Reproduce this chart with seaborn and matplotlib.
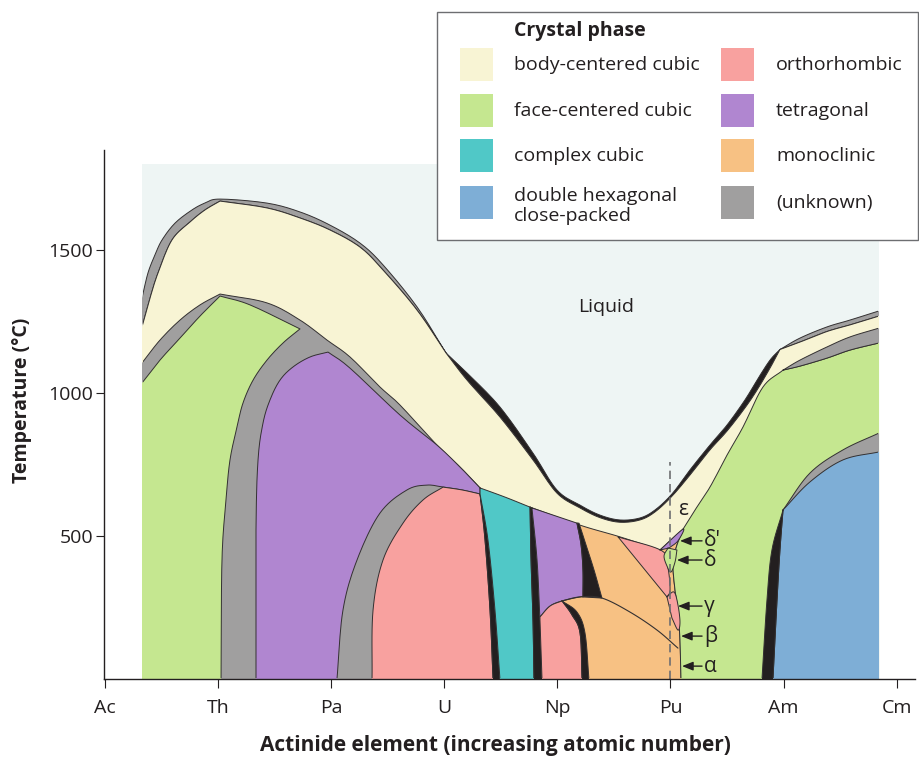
import numpy as np
import matplotlib
matplotlib.use("Agg")
import matplotlib.pyplot as plt
from matplotlib.patches import Rectangle
import seaborn as sns

# ---------------------------------------------------------------------------
# Data: positions along the actinide series (Ac = 0 ... Cm = 7), temperatures in °C
# ---------------------------------------------------------------------------
ELEMENTS = ["Ac", "Th", "Pa", "U", "Np", "Pu", "Am", "Cm"]
TEMP_TICKS = [500, 1000, 1500]

X_LEFT, X_RIGHT, T_TOP = 0.327, 6.844, 1800

# liquidus (upper) and solidus (top of the bcc field)
LIQUIDUS_TH_U = [(0.327, 1332), (0.380, 1420), (0.442, 1483), (0.504, 1535), (0.619, 1594),
                 (0.769, 1640), (0.884, 1664), (1.017, 1678), (1.432, 1664), (1.724, 1633),
                 (1.989, 1587), (2.255, 1524), (2.458, 1448), (2.759, 1301), (3.015, 1140)]
SOLIDUS_AC_TH = [(0.327, 1231), (0.398, 1332), (0.469, 1420), (0.592, 1535), (0.752, 1598),
                 (0.884, 1640), (1.017, 1671)]
SOLIDUS_TH_U = [(1.017, 1671), (1.432, 1647), (1.724, 1612), (1.989, 1570), (2.255, 1510),
                (2.458, 1430), (2.759, 1290), (3.015, 1140)]
LIQUIDUS_U_AM = [(3.015, 1140), (3.201, 1070), (3.492, 951), (3.784, 790), (3.996, 661),
                 (4.200, 608), (4.377, 573), (4.553, 556), (4.730, 563), (4.863, 591),
                 (5.013, 647), (5.172, 731), (5.349, 818), (5.500, 888), (5.659, 976),
                 (5.765, 1045), (5.880, 1115), (5.968, 1152)]
SOLIDUS_U_AM = [(3.015, 1140), (3.201, 1045), (3.492, 916), (3.784, 766), (3.996, 650),
                (4.200, 598), (4.377, 564), (4.553, 548), (4.730, 556), (4.863, 584),
                (5.013, 639), (5.172, 713), (5.349, 801), (5.500, 867), (5.659, 948),
                (5.765, 1010), (5.880, 1087), (5.968, 1152)]
LIQUIDUS_AM_CM = [(5.968, 1152), (6.145, 1192), (6.384, 1231), (6.587, 1255), (6.844, 1287)]
SOLIDUS_AM_CM = [(5.968, 1152), (6.145, 1178), (6.384, 1215), (6.587, 1238), (6.844, 1269)]

# lower limit of the bcc field
BCC_LOWER_AC_TH = [(0.327, 1105), (0.486, 1185), (0.663, 1255), (0.840, 1308), (1.017, 1346)]
BCC_LOWER_TH_U = [(1.017, 1346), (1.432, 1315), (1.724, 1255), (1.963, 1185), (2.166, 1126),
                  (2.431, 1021), (2.608, 958), (2.935, 818), (3.139, 741), (3.316, 668)]
BCC_LOWER_U_NP = [(3.316, 668), (3.537, 636), (3.758, 601)]
BCC_LOWER_NP_PU = [(3.758, 601), (4.200, 538), (4.553, 497), (4.907, 451)]
BCC_LOWER_PU_AM = [(5.111, 524), (5.217, 591), (5.349, 671), (5.500, 783), (5.641, 881),
                   (5.818, 1021), (5.995, 1080)]
BCC_LOWER_AM_CM = [(5.995, 1080), (6.145, 1115), (6.384, 1161), (6.587, 1196), (6.844, 1227)]
FCC_TOP_AM_CM = [(5.995, 1080), (6.145, 1094), (6.384, 1122), (6.587, 1150), (6.844, 1175)]

# thorium fcc field
TH_FCC_TOP = [(0.327, 1035), (0.486, 1115), (0.663, 1192), (0.840, 1269), (1.017, 1339)]
TH_FCC_TOP_RIGHT = [(1.017, 1339), (1.282, 1308), (1.724, 1224)]
TH_FCC_RIGHT = [(1.724, 1224), (1.574, 1175), (1.432, 1115), (1.309, 1045), (1.220, 965),
                (1.167, 881), (1.105, 766), (1.070, 626), (1.034, 416), (1.026, 0)]

# protactinium tetragonal field
PA_TET_LEFT = [(1.335, 0), (1.335, 521), (1.353, 766), (1.397, 895), (1.459, 976),
               (1.547, 1045), (1.662, 1091), (1.813, 1126), (1.972, 1143)]
PA_TET_TOP = [(1.972, 1143), (2.166, 1087), (2.608, 923), (2.935, 818), (3.139, 741),
              (3.316, 668)]
PA_U_BAND_OUTER = [(2.989, 671), (2.847, 678), (2.670, 661), (2.431, 580), (2.228, 416),
                   (2.104, 241), (2.051, 0)]

# uranium fields
U_ORTHO_LEFT = [(2.361, 0), (2.370, 241), (2.458, 416), (2.635, 545), (2.812, 626),
                (2.989, 671)]
U_ORTHO_TOP = [(2.989, 671), (3.157, 661), (3.316, 647)]
U_ORTHO_RIGHT = [(3.316, 647), (3.360, 486), (3.404, 241), (3.431, 0)]
U_CUBIC_LEFT = [(3.316, 647), (3.386, 486), (3.448, 241), (3.492, 0)]
U_CUBIC_RIGHT = [(3.758, 601), (3.767, 416), (3.784, 206), (3.793, 0)]
NP_BAND_RIGHT = [(3.775, 598), (3.820, 416), (3.846, 206), (3.864, 0)]

# neptunium / plutonium fields
NP_TET_TOP = [(3.775, 598), (4.173, 545)]
NP_WEDGE_LEFT = [(4.173, 545), (4.209, 469), (4.226, 381), (4.226, 287)]
NP_WEDGE_RIGHT = [(4.191, 545), (4.253, 469), (4.324, 381), (4.394, 283)]
NP_TET_BOTTOM = [(4.226, 287), (4.200, 287), (4.041, 273), (3.935, 255), (3.846, 217)]
NP_LOW_WEDGE_LEFT = [(4.041, 273), (4.129, 224), (4.200, 161), (4.218, 0)]
NP_LOW_WEDGE_RIGHT = [(4.041, 273), (4.173, 234), (4.244, 161), (4.279, 0)]
ALPHA_BETA_LINE = [(4.041, 273), (4.200, 287), (4.394, 283), (4.642, 234), (4.881, 171),
                   (5.066, 108)]
PU_EDGE = [(5.111, 524), (5.049, 458), (5.022, 399), (5.040, 311), (5.066, 241),
           (5.084, 136), (5.093, 0)]
PU_GAMMA_REGION = [(4.536, 497), (4.925, 448), (4.978, 388), (4.996, 311), (4.969, 287)]
PU_DELTA_PRIME = [(4.907, 451), (5.111, 524), (5.066, 483), (4.987, 458)]
PU_DELTA = [(4.978, 458), (4.943, 430), (4.969, 395), (5.004, 374), (5.040, 409), (5.057, 451)]
PU_GAMMA_LENS = [(4.969, 287), (5.031, 304), (5.066, 259), (5.084, 199), (5.066, 171),
                 (5.013, 213)]

# americium / curium dhcp field
AM_BAND_LEFT = [(5.809, 0), (5.853, 276), (5.897, 451), (5.995, 591)]
DHCP_LEFT = [(5.906, 0), (5.942, 276), (5.968, 451), (5.995, 591)]
DHCP_BAND_TOP = [(5.995, 591), (6.233, 720), (6.525, 801), (6.844, 860)]
DHCP_TOP = [(5.995, 591), (6.233, 689), (6.525, 766), (6.844, 794)]

PU_POSITION, PU_LINE_TOP = 5.0, 760
PU_PHASES = ["ε", "δ'", "δ", "γ", "β", "α"]
PU_PHASE_T = [591, 483, 416, 255, 150, 45]
PU_ARROW_TIP_X = [None, 5.084, 5.057, 5.066, 5.093, 5.102]

PHASE_COLORS = {
    "body-centered cubic": "#f8f4d4",
    "face-centered cubic": "#c5e790",
    "complex cubic": "#50c8c7",
    "double hexagonal\nclose-packed": "#7eaed6",
    "orthorhombic": "#f8a19f",
    "tetragonal": "#b086d0",
    "monoclinic": "#f7c183",
    "(unknown)": "#a09f9f",
}
LIQUID_COLOR = "#eef5f4"
TWO_PHASE = "#231f20"
EDGE = "#333031"
INK = "#231f20"

BCC = PHASE_COLORS["body-centered cubic"]
FCC = PHASE_COLORS["face-centered cubic"]
CC = PHASE_COLORS["complex cubic"]
DHCP = PHASE_COLORS["double hexagonal\nclose-packed"]
ORTHO = PHASE_COLORS["orthorhombic"]
TET = PHASE_COLORS["tetragonal"]
MONO = PHASE_COLORS["monoclinic"]
UNK = PHASE_COLORS["(unknown)"]

# ---------------------------------------------------------------------------
sns.set_theme(style="ticks")
plt.rcParams["font.family"] = ["Open Sans", "DejaVu Sans"]
plt.rcParams["text.color"] = INK

W, H = 920, 759
fig = plt.figure(figsize=(W / 100, H / 100), dpi=100)
ax = fig.add_axes([104 / W, 80 / H, 811 / W, 529 / H])
ax.set_xlim(-0.009, 7.162)
ax.set_ylim(0, 1849.6)

outline_clip = Rectangle((X_LEFT + 0.012, 5), X_RIGHT - X_LEFT - 0.024, T_TOP,
                         transform=ax.transData)


def smooth(part, n=10):
    """Catmull-Rom curve through the boundary points (ends kept)."""
    p = np.asarray(part, dtype=float)
    if len(p) < 3:
        return p
    ext = np.vstack([2 * p[0] - p[1], p, 2 * p[-1] - p[-2]])
    t = np.linspace(0, 1, n, endpoint=False)[:, None]
    segs = []
    for i in range(1, len(ext) - 2):
        p0, p1, p2, p3 = ext[i - 1], ext[i], ext[i + 1], ext[i + 2]
        segs.append(0.5 * (2 * p1 + (p2 - p0) * t + (2 * p0 - 5 * p1 + 4 * p2 - p3) * t ** 2
                           + (-p0 + 3 * p1 - 3 * p2 + p3) * t ** 3))
    segs.append(p[-1:])
    return np.vstack(segs)


zc = [1.0]


def region(*parts, color, edge=True):
    xy = np.vstack([smooth(part) for part in parts])
    z = zc[0]
    ax.fill(xy[:, 0], xy[:, 1], facecolor=color, edgecolor="none", lw=0, zorder=z)
    if edge:
        ring = np.vstack([xy, xy[:1]])
        (ln,) = ax.plot(ring[:, 0], ring[:, 1], color=EDGE, lw=0.7, zorder=z + 0.5,
                        solid_joinstyle="round")
        ln.set_clip_path(outline_clip)
    zc[0] += 1


def rev(seq):
    return list(seq)[::-1]


# liquid
region([(X_LEFT, 0), (X_LEFT, T_TOP)], [(X_RIGHT, T_TOP), (X_RIGHT, 0)], color=LIQUID_COLOR,
       edge=False)
# liquid + solid bands below the liquidus
region(LIQUIDUS_TH_U, rev(SOLIDUS_TH_U), rev(SOLIDUS_AC_TH), color=UNK)
region(LIQUIDUS_U_AM, rev(SOLIDUS_U_AM), color=TWO_PHASE)
region(LIQUIDUS_AM_CM, rev(SOLIDUS_AM_CM), color=UNK)
# bcc field
region(SOLIDUS_AC_TH, SOLIDUS_TH_U, SOLIDUS_U_AM, SOLIDUS_AM_CM, [(X_RIGHT, 0), (X_LEFT, 0)],
       color=BCC)
# Th-Pa-U region below the bcc field
region(BCC_LOWER_AC_TH, BCC_LOWER_TH_U, [(3.316, 0), (X_LEFT, 0)], color=UNK)
# Np-Pu base (monoclinic)
region(BCC_LOWER_NP_PU, PU_EDGE, [(3.758, 0)], color=MONO)
# Am fcc field
region(BCC_LOWER_PU_AM, FCC_TOP_AM_CM, [(X_RIGHT, 0)], rev(PU_EDGE), color=FCC)
region(BCC_LOWER_AM_CM, rev(FCC_TOP_AM_CM), color=UNK)
region(DHCP_BAND_TOP, [(X_RIGHT, 0)], DHCP_LEFT, color=UNK)
region(DHCP_TOP, [(X_RIGHT, 0)], DHCP_LEFT, color=DHCP)
region(AM_BAND_LEFT, rev(DHCP_LEFT), color=TWO_PHASE)
# Th, Pa, U fields
region(TH_FCC_TOP, TH_FCC_TOP_RIGHT, TH_FCC_RIGHT, [(X_LEFT, 0)], color=FCC)
region(PA_TET_LEFT, PA_TET_TOP, rev(U_ORTHO_TOP), PA_U_BAND_OUTER, color=TET)
region(U_ORTHO_LEFT, U_ORTHO_TOP, U_ORTHO_RIGHT, color=ORTHO)
region(U_ORTHO_RIGHT, rev(U_CUBIC_LEFT), color=TWO_PHASE)
region(BCC_LOWER_U_NP, U_CUBIC_RIGHT, rev(U_CUBIC_LEFT), color=CC)
region(U_CUBIC_RIGHT, rev(NP_BAND_RIGHT), color=TWO_PHASE)
# Np fields
region(NP_TET_TOP, NP_WEDGE_LEFT, NP_TET_BOTTOM, rev(NP_BAND_RIGHT[:3]), color=TET)
region(NP_WEDGE_LEFT, [(4.226, 287), (4.394, 283)], rev(NP_WEDGE_RIGHT), color=TWO_PHASE)
region(NP_TET_BOTTOM[2:], NP_BAND_RIGHT[2:], [(4.218, 0)], rev(NP_LOW_WEDGE_LEFT),
       color=ORTHO)
region(NP_LOW_WEDGE_LEFT, rev(NP_LOW_WEDGE_RIGHT), color=TWO_PHASE)
# Pu fields
region(PU_GAMMA_REGION, color=ORTHO)
region(PU_DELTA_PRIME, color=TET)
region(PU_DELTA, color=FCC)
region(PU_GAMMA_LENS, color=ORTHO)

ab = smooth(ALPHA_BETA_LINE)
sns.lineplot(x=ab[:, 0], y=ab[:, 1], sort=False, estimator=None, ax=ax, color=EDGE, lw=0.8,
             zorder=zc[0])
sns.lineplot(x=[PU_POSITION, PU_POSITION], y=[0, PU_LINE_TOP], sort=False, estimator=None, ax=ax,
             color="#6d6e71", lw=1.2, zorder=zc[0] + 1)
ax.lines[-1].set_dashes((5, 3))

# Pu allotrope labels
for name, t, tip in zip(PU_PHASES, PU_PHASE_T, PU_ARROW_TIP_X):
    if tip is None:
        ax.text(5.111, t, name, ha="center", va="center", fontsize=15, zorder=zc[0] + 2)
        continue
    ax.annotate("", xy=(tip, t), xytext=(5.279, t), zorder=zc[0] + 2,
                arrowprops=dict(arrowstyle="-|>,head_length=0.55,head_width=0.22", color=INK,
                                lw=1.0, shrinkA=0, shrinkB=0))
    ax.text(5.296, t, name, ha="left", va="center", fontsize=15, zorder=zc[0] + 2)

ax.text(4.43, 1301, "Liquid", ha="center", va="center", fontsize=14, zorder=zc[0] + 2)

# axes styling
sns.despine(ax=ax)
for side in ("left", "bottom"):
    ax.spines[side].set_linewidth(1.0)
    ax.spines[side].set_color(INK)
    ax.spines[side].set_zorder(zc[0] + 5)
ax.set_xticks(range(len(ELEMENTS)))
ax.set_xticklabels(ELEMENTS)
ax.set_yticks(TEMP_TICKS)
ax.tick_params(axis="x", length=6.5, width=0.8, pad=8, labelsize=14, colors=INK)
ax.tick_params(axis="y", length=6, width=0.8, pad=2, labelsize=14, colors=INK)
ax.grid(False)
ax.set_facecolor("white")

fig.text(495 / W, 1 - 745 / H, "Actinide element (increasing atomic number)", ha="center",
         va="center", fontsize=15, fontweight="bold")
fig.text(22 / W, 1 - 400 / H, "Temperature (°C)", ha="center", va="center", rotation=90,
         fontsize=14, fontweight="bold")


# legend box
def fbox(px, py, w, h, **kw):
    return Rectangle((px / W, 1 - (py + h) / H), w / W, h / H, transform=fig.transFigure, **kw)


fig.add_artist(fbox(437, 12, 481, 228, facecolor="white", edgecolor="#6d6e71", lw=1.0))
fig.text(514 / W, 1 - 31 / H, "Crystal phase", ha="left", va="center", fontsize=14,
         fontweight="bold")
names = list(PHASE_COLORS)
row_top = [48, 94, 139, 186]
for i, name in enumerate(names):
    col, row = divmod(i, 4)
    sx = 460 if col == 0 else 721
    tx = 514 if col == 0 else 776
    fig.add_artist(fbox(sx, row_top[row], 33, 33, facecolor=PHASE_COLORS[name], edgecolor="none"))
    cy = row_top[row] + 17 + (3 if "\n" in name else 0)
    fig.text(tx / W, 1 - cy / H, name, ha="left", va="center", fontsize=14, linespacing=1.15)

fig.savefig("out.png", dpi=100)
